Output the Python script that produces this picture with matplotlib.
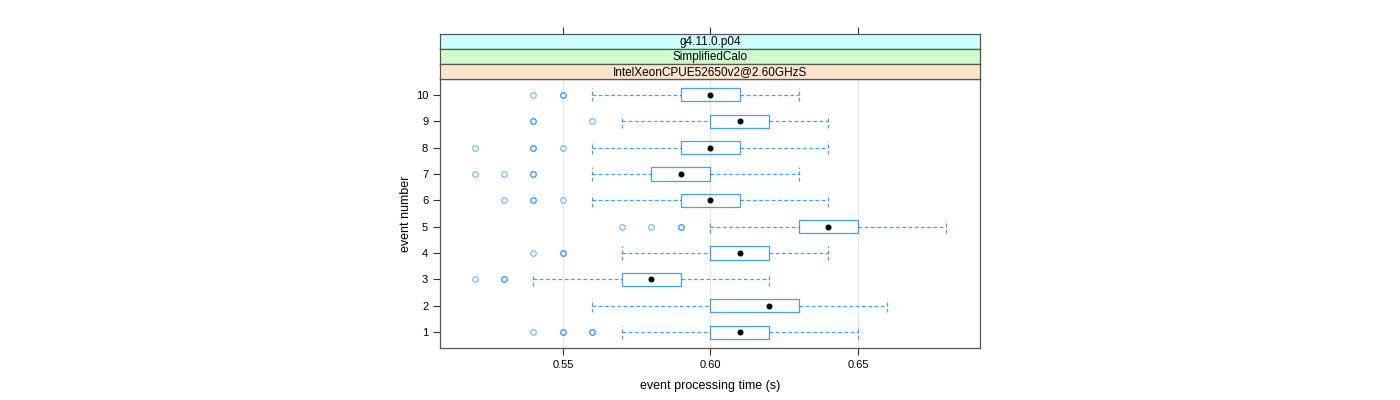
import matplotlib
matplotlib.use("Agg")
import matplotlib.pyplot as plt

plt.rcParams['font.family'] = ['Liberation Sans', 'DejaVu Sans']

events = [1, 2, 3, 4, 5, 6, 7, 8, 9, 10]
whisk_lo = [0.57, 0.56, 0.54, 0.57, 0.60, 0.56, 0.56, 0.56, 0.57, 0.56]
q1 = [0.60, 0.60, 0.57, 0.60, 0.63, 0.59, 0.58, 0.59, 0.60, 0.59]
medians = [0.61, 0.62, 0.58, 0.61, 0.64, 0.60, 0.59, 0.60, 0.61, 0.60]
q3 = [0.62, 0.63, 0.59, 0.62, 0.65, 0.61, 0.60, 0.61, 0.62, 0.61]
whisk_hi = [0.65, 0.66, 0.62, 0.64, 0.68, 0.64, 0.63, 0.64, 0.64, 0.63]
# outliers repeated where several runs landed on the same value
outliers = [
    [0.54, 0.55, 0.55, 0.56, 0.56],
    [],
    [0.52, 0.53, 0.53],
    [0.54, 0.55, 0.55],
    [0.57, 0.58, 0.59, 0.59],
    [0.53, 0.54, 0.54, 0.55],
    [0.52, 0.53, 0.54, 0.54],
    [0.52, 0.54, 0.54, 0.55],
    [0.54, 0.54, 0.56],
    [0.54, 0.55, 0.55],
]
strips = ['g4.11.0.p04', 'SimplifiedCalo', 'IntelXeonCPUE52650v2@2.60GHzS']
strip_colors = ['#ccffff', '#ccffcc', '#ffe5cc']
xticks = [0.55, 0.60, 0.65]

blue = '#0080ff'
xlim = (0.5083, 0.6914)

fig = plt.figure(figsize=(14, 4), dpi=100)
ax = fig.add_axes([440 / 1400, 52 / 400, 540 / 1400, 269 / 400])

for x in xticks:
    ax.axvline(x, color='#e6e6e6', lw=0.8, zorder=0)

h = 0.5
for i, ev in enumerate(events):
    ax.add_patch(plt.Rectangle((q1[i], ev - h / 2), q3[i] - q1[i], h,
                               fill=False, edgecolor=blue, lw=0.9, alpha=0.75, zorder=2))
    ax.plot([whisk_lo[i], q1[i]], [ev, ev], ls=(0, (3, 2)), color=blue, lw=0.9, alpha=0.75)
    ax.plot([q3[i], whisk_hi[i]], [ev, ev], ls=(0, (3, 2)), color=blue, lw=0.9, alpha=0.75)
    for wx in (whisk_lo[i], whisk_hi[i]):
        ax.plot([wx, wx], [ev - h / 2, ev + h / 2], ls=(0, (3, 2)), color=blue, lw=0.9, alpha=0.75)
    ax.plot(medians[i], ev, 'o', color='black', ms=3.3, zorder=3)
    for ox in outliers[i]:
        ax.plot(ox, ev, 'o', mfc='none', mec=blue, ms=4, mew=0.8, alpha=0.6)

ax.set_xlim(*xlim)
ax.set_ylim(0.4, 10.6)
ax.set_xticks(xticks)
ax.set_xticklabels(['0.55', '0.60', '0.65'])
ax.set_yticks(events)
ax.tick_params(direction='out', length=5, width=0.8, labelsize=8, colors='#333333')
ax.tick_params(axis='both', labelcolor='black')
for s in ax.spines.values():
    s.set_color('#555555')
    s.set_linewidth(0.9)
ax.set_xlabel('event processing time (s)', fontsize=9, labelpad=7)
ax.set_ylabel('event number', fontsize=9, labelpad=3)

# strips, top to bottom
strip_h = 15
for k, (txt, col) in enumerate(zip(strips, strip_colors)):
    top = 34 + k * strip_h
    sax = fig.add_axes([440 / 1400, (400 - top - strip_h) / 400, 540 / 1400, strip_h / 400])
    sax.set_facecolor(col)
    sax.set_xlim(*xlim)
    sax.set_ylim(0, 1)
    sax.set_yticks([])
    if k == 0:
        sax.xaxis.tick_top()
        sax.set_xticks(xticks)
        sax.set_xticklabels([])
        sax.tick_params(axis='x', direction='out', length=5, width=0.8, colors='#333333')
    else:
        sax.set_xticks([])
    for s in sax.spines.values():
        s.set_color('#555555')
        s.set_linewidth(0.9)
    sax.text(0.5, 0.45, txt, transform=sax.transAxes, ha='center', va='center', fontsize=8.5)

fig.savefig('out.png', dpi=100)
